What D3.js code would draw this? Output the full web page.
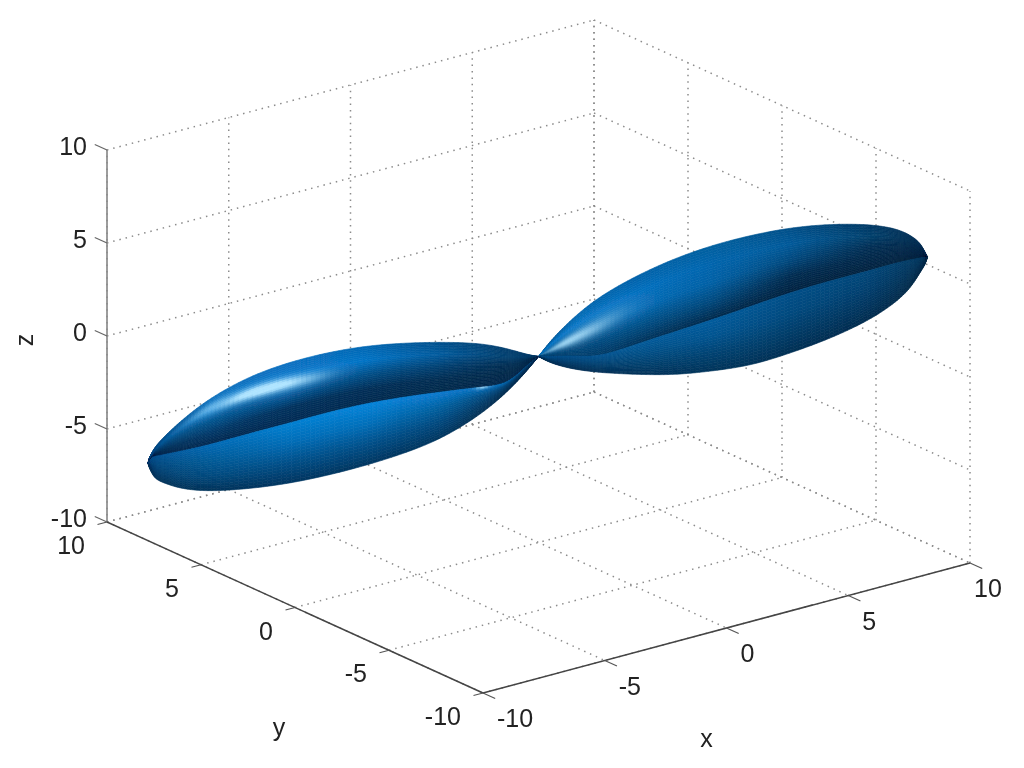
<!DOCTYPE html>
<html><head><meta charset="utf-8">
<script src="https://cdn.jsdelivr.net/npm/d3@7/dist/d3.min.js"></script>
<style>html,body{margin:0;padding:0;background:#fff}svg{display:block}text{font-family:"Liberation Sans",Arial,sans-serif;fill:#222}</style>
</head><body><svg id="c" width="1024" height="768"></svg>
<script>
// ---------- axis data ----------
const domain = [-10, 10];
const xTicks = [-10, -5, 0, 5, 10];
const yTicks = [10, 5, 0, -5, -10];
const zTicks = [10, 5, 0, -5, -10];
const axisNames = { x: "x", y: "y", z: "z" };

// ---------- lobe data: the lobe axis runs from the origin to lobeTip * s ----------
const lobeTip = [9.9, -7.8, 5.5];
const rightS      = [0, .03, .08, .15, .25, .35, .45, .55, .65, .75, .85, .92, .96, .985, .998, 1.003];
const rightTop    = [0, .67, 1.48, 2.34, 2.98, 3.39, 3.58, 3.58, 3.44, 3.09, 2.55, 1.96, 1.37, .81, .2, -.04];
const rightCrease = [0, -.2, -.35, -.89, -.7, -.56, -.43, -.24, -.05, .03, .03, .08, .05, .02, 0, -.04];
const rightBottom = [0, -.51, -1.08, -1.67, -2.31, -2.88, -3.2, -3.44, -3.31, -3.09, -2.66, -2.07, -1.48, -.75, -.4, -.04];

const leftS      = [0, .03, .08, .15, .25, .35, .45, .55, .65, .75, .85, .92, .96, .985, .995, 1.004, 1.007];
const leftTop    = [0, .27, .86, 1.53, 2.12, 2.61, 2.98, 3.15, 3.15, 2.93, 2.31, 1.53, .97, .54, .27, -.05, -.33];
const leftCrease = [0, -.3, -1.1, -.83, -.56, -.3, -.13, -.08, -.13, -.13, -.19, -.13, -.08, -.05, -.02, -.1, -.33];
const leftBottom = [0, -.62, -1.48, -2.34, -3.09, -3.36, -3.47, -3.47, -3.36, -3.09, -2.69, -2.18, -1.69, -1.34, -1.02, -.6, -.33];

// ---------- surface colour tables: station along the lobe, stops across each band ----------
const shadeStations = [0, .1, .25, .45, .65, .85, 1];
const rightUpper = [
  ["#04508c","#0a78c8","#035a9a","#034a80","#03406e"],
  ["#0565ad","#0a78c8","#035a9a","#034a80","#03406e"],
  ["#0561a8","#0570c0","#056ab4","#044f86","#02345c"],
  ["#05609f","#0565ad","#0561a6","#034a7f","#022a4c"],
  ["#044f88","#045a9a","#03497e","#022d52","#012341"],
  ["#033a66","#03426f","#022f55","#01284a","#012340"],
  ["#023056","#012a4c","#01284a","#012545","#012340"]];
const rightLower = [
  ["#034f8a","#03467a","#023a66","#022f55"],
  ["#034f8a","#03467a","#023a66","#022f55"],
  ["#045a9a","#044f86","#03416f","#023158"],
  ["#055c9e","#045490","#034372","#02345a"],
  ["#044f88","#044a7f","#033d69","#022f54"],
  ["#03477a","#034070","#023660","#022c4f"],
  ["#02385f","#023458","#022f50","#022a48"]];
const leftUpper = [
  ["#023a66","#023a66","#022f55","#012a4c","#01264a"],
  ["#033f70","#034374","#022f55","#012a4c","#01264a"],
  ["#044f8a","#055a9c","#033f70","#022d52","#012a4c"],
  ["#0667b3","#0574c6","#054f88","#022f58","#012a50"],
  ["#0a70c0","#0a78cc","#0a62a6","#02325e","#012b54"],
  ["#0a6cb8","#1080d0","#05558f","#033a6b","#02284f"],
  ["#02457d","#034f8a","#033f70","#022f55","#02284f"]];
const leftLower = [
  ["#033f70","#02365f","#022f55","#022d50"],
  ["#0770bd","#03477c","#02365f","#022d50"],
  ["#0a7ad0","#05609f","#03477c","#02365f"],
  ["#0784da","#0670bb","#04508a","#023660"],
  ["#0680d2","#066cb6","#044f88","#023560"],
  ["#0569b5","#055c99","#044b80","#02335a"],
  ["#03508f","#034a80","#023f6e","#02345a"]];
// highlight streaks: [s, band position, s spread, band spread, strength]
const rightHighlights = [[.06, .62, .035, .1, .6], [.11, .52, .045, .09, .55], [.17, .45, .055, .1, .28]];
const leftHighlights  = [[.85, .19, .04, .07, .4], [.76, .28, .05, .07, .85], [.68, .33, .05, .07, .9], [.6, .37, .05, .07, .45]];
const leftSpots       = [[.145, .02, .012, .05, .8]];

// ---------- projection built from D3 scales ----------
const xPx = d3.scaleLinear().domain(domain).range([0, 487]);
const xPy = d3.scaleLinear().domain(domain).range([0, -130]);
const yPx = d3.scaleLinear().domain([10, -10]).range([0, 376]);
const yPy = d3.scaleLinear().domain([10, -10]).range([0, 171]);
const zPy = d3.scaleLinear().domain(domain).range([0, -372]);
const O = [107, 522];
const proj = (x, y, z) => [O[0] + xPx(x) + yPx(y), O[1] + xPy(x) + yPy(y) + zPy(z)];

const svg = d3.select("#c");
const lineGen = d3.line();
svg.append("defs").append("filter").attr("id", "soft")
  .attr("filterUnits", "userSpaceOnUse").attr("x", 0).attr("y", 0).attr("width", 1024).attr("height", 768)
  .append("feGaussianBlur").attr("stdDeviation", .55);
const root = svg.append("g").attr("filter", "url(#soft)");

// ---------- grid ----------
const gridSegs = [];
const [a, b] = domain;
zTicks.forEach(z => {
  gridSegs.push([[a, b, z], [b, b, z]]);
  gridSegs.push([[b, b, z], [b, a, z]]);
});
xTicks.forEach(x => {
  gridSegs.push([[x, b, a], [x, b, b]]);
  gridSegs.push([[x, b, a], [x, a, a]]);
});
yTicks.forEach(y => {
  gridSegs.push([[b, y, a], [b, y, b]]);
  gridSegs.push([[a, y, a], [b, y, a]]);
});
root.append("g").selectAll("path").data(gridSegs).join("path")
  .attr("d", d => lineGen(d.map(p => proj(...p))))
  .attr("fill", "none").attr("stroke", "#8c8c8c").attr("stroke-width", 1.5)
  .attr("stroke-dasharray", "1.5 4.9");

// ---------- axes ----------
const axisG = root.append("g");
const seg = (p, q, col, w) => axisG.append("path").attr("d", lineGen([proj(...p), proj(...q)]))
  .attr("fill", "none").attr("stroke", col).attr("stroke-width", w);
seg([a, b, a], [a, b, b], "#8c8c8c", 1.7);
seg([a, b, a], [a, a, a], "#444", 1.5);
seg([a, a, a], [b, a, a], "#444", 1.5);
const tickLen = 0.65;
xTicks.forEach(x => seg([x, a, a], [x, a - tickLen, a], "#555", 1.2));
yTicks.forEach(y => seg([a, y, a], [a - tickLen * .6, y, a], "#555", 1.2));
zTicks.forEach(z => seg([a, b, z], [a, b + tickLen, z], "#666", 1.2));

// ---------- surface ----------
const rgbTable = tbl => tbl.map(r => r.map(c => { const q = d3.rgb(c); return [q.r, q.g, q.b]; }));
function tableColor(tbl, s, t) {
  const sc = shadeStations;
  let k = d3.bisectRight(sc, s) - 1; k = Math.max(0, Math.min(sc.length - 2, k));
  const fs = Math.min(1, Math.max(0, (s - sc[k]) / (sc[k + 1] - sc[k])));
  const m = tbl[0].length - 1, pos = Math.min(m - 1e-6, Math.max(0, t) * m), j = Math.floor(pos), ft = pos - j;
  return [0, 1, 2].map(c => {
    const top = tbl[k][j][c] * (1 - ft) + tbl[k][j + 1][c] * ft;
    const bot = tbl[k + 1][j][c] * (1 - ft) + tbl[k + 1][j + 1][c] * ft;
    return top * (1 - fs) + bot * fs;
  });
}
function addGlow(col, list, s, t) {
  let g = 0;
  list.forEach(([hs, ht, ss, st, amp]) => {
    g += amp * Math.exp(-((s - hs) ** 2) / (2 * ss * ss) - ((t - ht) ** 2) / (2 * st * st));
  });
  g = Math.min(1, g);
  const target = [175, 228, 255];
  return col.map((v, i) => v + (target[i] - v) * g);
}
function buildLobe(sign, S, T, C, B, upper, lower, glowsU, glowsL) {
  const U = rgbTable(upper), L = rgbTable(lower), quads = [];
  const nS = 130, nU = 30, nL = 20;
  const iS = d3.interpolateBasis(S), iT = d3.interpolateBasis(T), iC = d3.interpolateBasis(C), iB = d3.interpolateBasis(B);
  const point = (u, band, f) => {
    const s = iS(u), top = iT(u), cr = iC(u), bo = iB(u);
    const dz = band === 0 ? top + (cr - top) * f : cr + (bo - cr) * f;
    return proj(sign * s * lobeTip[0], sign * s * lobeTip[1], sign * s * lobeTip[2] + dz);
  };
  for (let i = 0; i < nS; i++) {
    const u0 = i / nS, u1 = (i + 1) / nS, sMid = iS((u0 + u1) / 2);
    for (let band = 0; band < 2; band++) {
      const n = band === 0 ? nU : nL;
      for (let j = 0; j < n; j++) {
        const f0 = j / n, f1 = (j + 1) / n, fm = (f0 + f1) / 2;
        let col = tableColor(band === 0 ? U : L, sMid, fm);
        col = addGlow(col, band === 0 ? glowsU : glowsL, sMid, fm);
        quads.push({
          pts: [point(u0, band, f0), point(u1, band, f0), point(u1, band, f1), point(u0, band, f1)],
          fill: `rgb(${col.map(Math.round).join(",")})`
        });
      }
    }
  }
  return quads;
}
const quads = buildLobe(-1, leftS, leftTop, leftCrease, leftBottom, leftUpper, leftLower, leftHighlights, leftSpots)
  .concat(buildLobe(1, rightS, rightTop, rightCrease, rightBottom, rightUpper, rightLower, rightHighlights, []));
root.append("g").selectAll("path").data(quads).join("path")
  .attr("d", d => lineGen(d.pts) + "Z")
  .attr("fill", d => d.fill).attr("stroke", d => d.fill).attr("stroke-width", .6);

// ---------- labels ----------
const fs = 25;
const txt = root.append("g").attr("font-size", fs);
zTicks.forEach(z => {
  const p = proj(a, b, z);
  txt.append("text").attr("x", p[0] - 20).attr("y", p[1] + 5).attr("text-anchor", "end").text(z);
});
yTicks.forEach(y => {
  const p = proj(a, y, a);
  txt.append("text").attr("x", p[0] - 22).attr("y", p[1] + 32).attr("text-anchor", "end").text(y);
});
xTicks.forEach(x => {
  const p = proj(x, a, a);
  txt.append("text").attr("x", p[0] + (x === b ? 4 : 14)).attr("y", p[1] + 34).attr("text-anchor", "start").text(x);
});
const xl = proj(0, a, a), yl = proj(a, 0, a), zl = proj(a, b, 0);
txt.append("text").attr("x", xl[0] - 20).attr("y", xl[1] + 119).attr("text-anchor", "middle").text(axisNames.x);
txt.append("text").attr("x", yl[0] - 16).attr("y", yl[1] + 128).attr("text-anchor", "middle").text(axisNames.y);
txt.append("text").attr("transform", `translate(${zl[0] - 74},${zl[1] + 4}) rotate(-90)`).attr("text-anchor", "middle").text(axisNames.z);
</script></body></html>
